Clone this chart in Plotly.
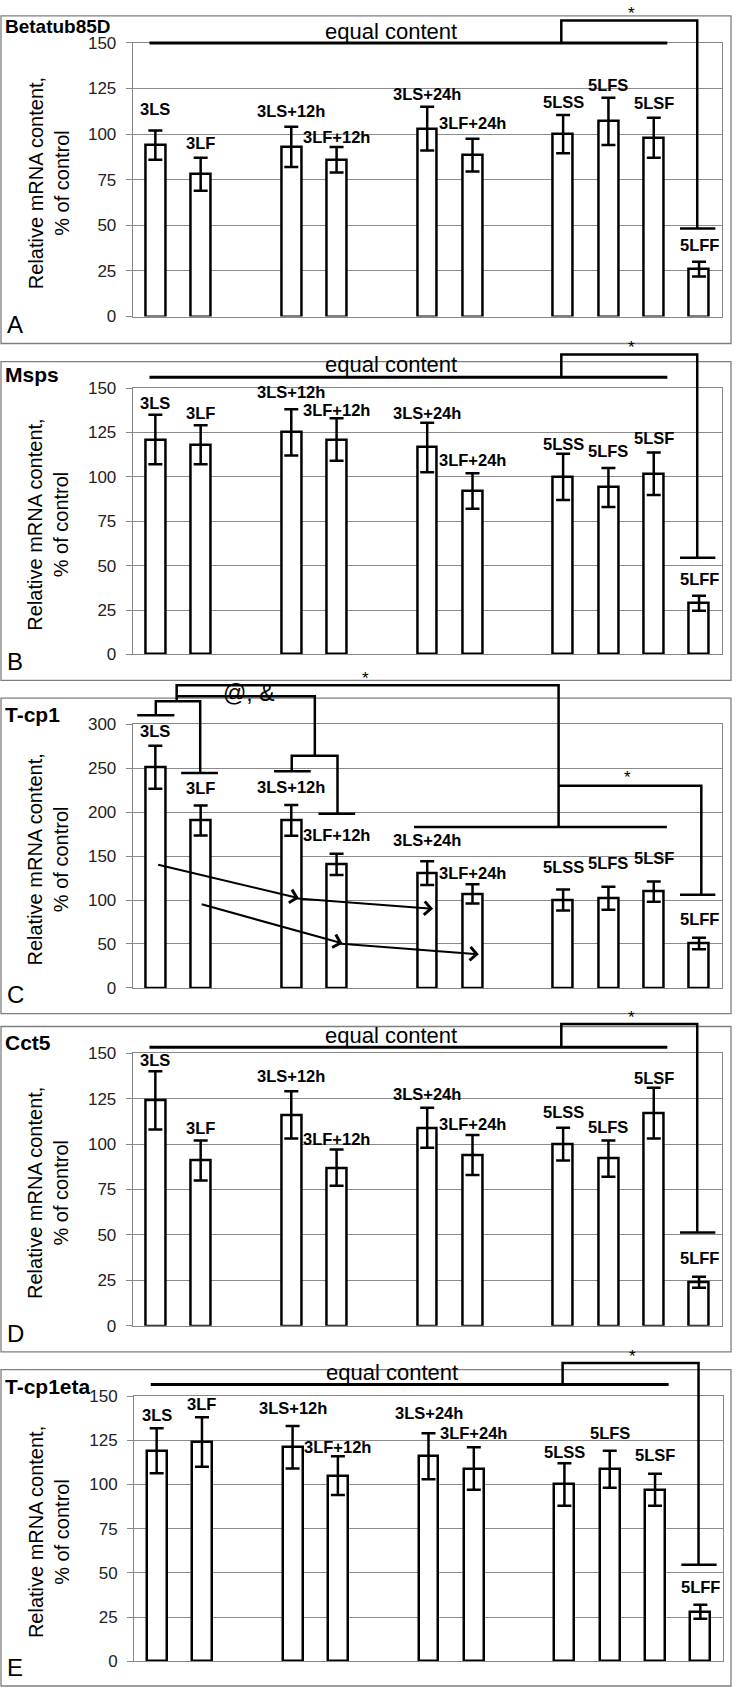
import plotly.graph_objects as go

# ---------------- data ----------------
categories = ["3LS", "3LF", "3LS+12h", "3LF+12h", "3LS+24h", "3LF+24h",
              "5LSS", "5LFS", "5LSF", "5LFF"]
x_slots = [0, 1, 3, 4, 6, 7, 9, 10, 11, 12]          # Excel category slots (empty gaps)
genes = ["Betatub85D", "Msps", "T-cp1", "Cct5", "T-cp1eta"]
panel_letters = ["A", "B", "C", "D", "E"]

betatub_mean = [94, 78, 93, 86, 103, 88.5, 100, 107, 98, 26]
betatub_err = [8, 9, 11, 7, 12, 9, 10.5, 13, 11, 4]
msps_mean = [121, 118, 125, 121, 116.5, 92, 100, 94, 101.7, 28.8]
msps_err = [14, 11, 13, 12, 14, 10, 13, 11, 12, 4.2]
tcp1_mean = [251, 190.5, 190.5, 140.6, 130.5, 107, 100, 102, 109.5, 50.6]
tcp1_err = [24.5, 17, 17.5, 12, 13.5, 11, 12, 13, 11.5, 6.5]
cct5_mean = [124, 91, 116, 87, 109, 94, 100, 92, 117, 24]
cct5_err = [16, 11, 13, 10, 11, 11, 9, 10, 14, 3]
tcp1eta_mean = [119, 124, 121, 105, 116, 109, 100, 108.6, 97, 28]
tcp1eta_err = [12.7, 14, 12, 11, 13, 12, 12, 10.5, 9, 4]

means = [betatub_mean, msps_mean, tcp1_mean, cct5_mean, tcp1eta_mean]
errs = [betatub_err, msps_err, tcp1_err, cct5_err, tcp1eta_err]
y_max = [150, 150, 300, 150, 150]
y_dtick = [25, 25, 50, 25, 25]

# ---------------- layout geometry (pixels) ----------------
W, H = 736, 1698
geom = [
    dict(top=34.3, zero=311.0, f0=7.0, f1=338.3, x0=132.7, x1=721.7),
    dict(top=383.3, zero=652.7, f0=356.7, f1=679.0, x0=132.7, x1=721.7),
    dict(top=723.3, zero=990.0, f0=697.0, f1=1016.0, x0=132.7, x1=721.7),
    dict(top=1056.0, zero=1331.7, f0=1029.0, f1=1358.0, x0=132.7, x1=721.7),
    dict(top=1402.7, zero=1671.0, f0=1376.0, f1=1696.0, x0=134.0, x1=723.0),
]
title_size = [19, 21, 21, 21, 21]
title_dy = [11, 13, 16, 16, 17]

# label heights (value units, where each bar label is centred)
label_y = [
    [113.5, 94.9, 112.6, 98.5, 122, 105.9, 117.5, 126.7, 117.1, 39.4],
    [141.6, 135.7, 147.6, 137.9, 135.7, 109.2, 118.4, 114.4, 121.6, 42.3],
    [292.5, 226.9, 228.8, 173.6, 168.8, 131.3, 138, 142.5, 148, 78],
    [146.4, 108.8, 137.5, 102.8, 127.5, 111.2, 117.9, 109.4, 136.6, 37.5],
    [139, 145.3, 143.5, 121.1, 140.3, 129.1, 118.3, 129.1, 116.6, 41.9],
]

FONT = "Liberation Sans, Arial, sans-serif"


def to_paper(i, cat, val):
    g = geom[i]
    xpx = g["x0"] + (cat + 0.5) * (g["x1"] - g["x0"]) / 13.0
    ypx = g["zero"] - (g["zero"] - g["top"]) * val / y_max[i]
    return xpx / W, 1 - ypx / H


def polyline(i, pts, width=2.5):
    p = []
    for k, (c, v) in enumerate(pts):
        xp, yp = to_paper(i, c, v)
        p.append(("M" if k == 0 else "L") + f"{xp:.5f},{yp:.5f}")
    return dict(type="path", xref="paper", yref="paper", path=" ".join(p),
                line=dict(color="black", width=width), layer="above")


fig = go.Figure()
shapes = []
annotations = []

for i in range(5):
    g = geom[i]
    xa = "x" if i == 0 else f"x{i+1}"
    ya = "y" if i == 0 else f"y{i+1}"
    fig.add_trace(go.Bar(
        x=x_slots, y=means[i], width=0.44,
        marker=dict(color="white", line=dict(color="black", width=2.5)),
        error_y=dict(type="data", array=errs[i], color="black", thickness=2.5, width=7),
        xaxis=xa, yaxis=ya, showlegend=False, hoverinfo="skip"))

    axis_common = dict(showline=True, linecolor="#868686", linewidth=1, mirror=True)
    fig.layout["xaxis" if i == 0 else f"xaxis{i+1}"] = dict(
        domain=[g["x0"] / W, g["x1"] / W], range=[-0.5, 12.5], anchor=ya,
        showgrid=False, showticklabels=False, ticks="", zeroline=False, fixedrange=True,
        **axis_common)
    fig.layout["yaxis" if i == 0 else f"yaxis{i+1}"] = dict(
        domain=[1 - g["zero"] / H, 1 - g["top"] / H], range=[0, y_max[i]], anchor=xa,
        dtick=y_dtick[i], tick0=0, showgrid=True, gridcolor="#8c8c8c", gridwidth=1,
        zeroline=False, ticks="outside", ticklen=6, tickcolor="#868686",
        ticklabelstandoff=6,
        tickfont=dict(family=FONT, size=17, color="#222222"), fixedrange=True,
        **axis_common)

    # outer panel frame
    shapes.append(dict(type="rect", xref="paper", yref="paper",
                       x0=1 / W, x1=731 / W, y0=1 - g["f1"] / H, y1=1 - g["f0"] / H,
                       line=dict(color="#7f7f7f", width=1.3), fillcolor="rgba(0,0,0,0)",
                       layer="below"))

    # gene title
    annotations.append(dict(xref="paper", yref="paper", x=3 / W,
                            y=1 - (g["f0"] + title_dy[i]) / H, xanchor="left",
                            yanchor="middle", text=genes[i], showarrow=False,
                            font=dict(family=FONT, size=title_size[i], color="black",
                                      weight="bold")))
    # panel letter
    annotations.append(dict(xref="paper", yref="paper", x=15 / W,
                            y=1 - (g["f1"] - 19) / H, xanchor="center", yanchor="middle",
                            text=panel_letters[i], showarrow=False,
                            font=dict(family=FONT, size=24, color="black")))
    # y-axis title
    annotations.append(dict(xref="paper", yref="paper", x=48.5 / W,
                            y=1 - ((g["top"] + g["zero"]) / 2 + 4) / H,
                            xanchor="center", yanchor="middle", textangle=-90,
                            text="Relative mRNA content,<br>% of control", showarrow=False,
                            font=dict(family=FONT, size=20, color="black")))
    # bar labels
    for s, lab, ly in zip(x_slots, categories, label_y[i]):
        annotations.append(dict(xref=xa, yref=ya, x=s, y=ly, text=lab, showarrow=False,
                                xanchor="center", yanchor="middle",
                                font=dict(family=FONT, size=16.5, color="black",
                                          weight="bold")))

# ---------- significance brackets: panels A, B, D, E ----------
eq_brackets = {0: dict(eq=150, top=162.3, bot=48.3, star=166.4, text=156),
               1: dict(eq=156.1, top=168.9, bot=54.4, star=172.6, text=163),
               3: dict(eq=153.3, top=166, bot=51.4, star=169.6, text=160),
               4: dict(eq=156.5, top=168.7, bot=54.6, star=172.4, text=163.1)}
for i, b in eq_brackets.items():
    shapes.append(polyline(i, [(-0.13, b["eq"]), (11.3, b["eq"])], width=3))
    shapes.append(polyline(i, [(8.96, b["eq"]), (8.96, b["top"]), (11.96, b["top"]),
                               (11.96, b["bot"])]))
    shapes.append(polyline(i, [(11.58, b["bot"]), (12.36, b["bot"])]))
    xp, yp = to_paper(i, 5.2, b["text"])
    annotations.append(dict(xref="paper", yref="paper", x=xp, y=yp, text="equal content",
                            showarrow=False, xanchor="center", yanchor="middle",
                            font=dict(family=FONT, size=22, color="black")))
    xp, yp = to_paper(i, 10.5, b["star"])
    annotations.append(dict(xref="paper", yref="paper", x=xp, y=yp, text="*",
                            showarrow=False, xanchor="center", yanchor="middle",
                            font=dict(family=FONT, size=17, color="black")))

# ---------- panel C brackets ----------
c = 2
shapes += [
    polyline(c, [(-0.40, 310.2), (0.42, 310.2)]),
    polyline(c, [(0.01, 310.2), (0.01, 326), (0.99, 326), (0.99, 244.5)]),
    polyline(c, [(0.57, 244.5), (1.38, 244.5)]),
    polyline(c, [(0.47, 326), (0.47, 344.3), (8.90, 344.3), (8.90, 183)]),
    polyline(c, [(0.47, 331.9), (3.52, 331.9), (3.52, 264)]),
    polyline(c, [(3.01, 246.4), (3.01, 264), (4.02, 264), (4.02, 198)]),
    polyline(c, [(2.62, 246.4), (3.43, 246.4)]),
    polyline(c, [(3.60, 198), (4.41, 198)]),
    polyline(c, [(5.71, 183), (11.29, 183)]),
    polyline(c, [(8.90, 229.9), (12.05, 229.9), (12.05, 106.1)]),
    polyline(c, [(11.58, 106.1), (12.36, 106.1)]),
]
for (cx, cv, txt, sz) in [(4.64, 352.1, "*", 17), (2.05, 335.6, "@, &", 23),
                          (10.42, 239.3, "*", 17)]:
    xp, yp = to_paper(c, cx, cv)
    annotations.append(dict(xref="paper", yref="paper", x=xp, y=yp, text=txt,
                            showarrow=False, xanchor="center", yanchor="middle",
                            font=dict(family=FONT, size=sz, color="black")))

# trend arrows in panel C (tail -> head)
arrows = [((0.03, 140.6), (3.17, 102)), ((3.03, 102), (6.13, 90)),
          ((0.99, 95.6), (4.13, 50.6)), ((4.0, 50.6), (7.14, 38.25))]
for (tx, tv), (hx, hv) in arrows:
    annotations.append(dict(xref="x3", yref="y3", axref="x3", ayref="y3",
                            x=hx, y=hv, ax=tx, ay=tv, text="", showarrow=True,
                            arrowhead=4, arrowsize=1.3, arrowwidth=2,
                            arrowcolor="black", standoff=0, startstandoff=0))

fig.update_layout(
    width=W, height=H, margin=dict(l=0, r=0, t=0, b=0),
    paper_bgcolor="white", plot_bgcolor="white",
    shapes=shapes, annotations=annotations, bargap=0, showlegend=False,
    font=dict(family=FONT, color="black"),
)

fig.write_html("out.html", config={"displayModeBar": False},
               post_script="document.body.style.margin='0';document.body.style.overflow='hidden';")
